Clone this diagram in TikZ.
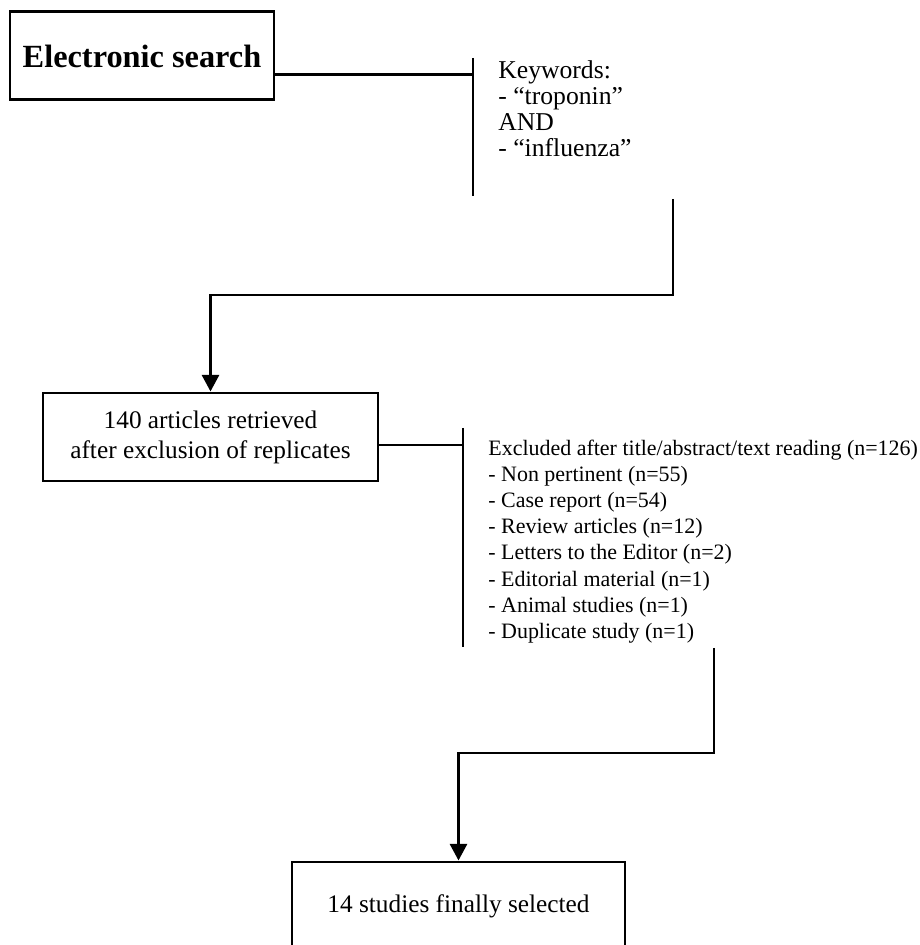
\documentclass[tikz,border=0pt]{standalone}
\usepackage{fontspec}
\setmainfont{Liberation Serif}
\usetikzlibrary{arrows.meta}
\tikzset{
  fcbox/.style={draw=black, line width=1.7pt, minimum height=1.76cm, inner sep=0pt, align=center},
  fcline/.style={line width=1.7pt, draw=black},
  fcarrow/.style={line width=1.7pt, draw=black, -{Triangle[width=9.7pt,length=9.5pt]}},
  fclist/.style={anchor=west, align=left, inner sep=0pt},
  fctitle/.style={font=\fontsize{18.4}{22}\selectfont\bfseries},
  fctext/.style={font=\fontsize{14.4}{17.1}\selectfont},
  fckey/.style={font=\fontsize{14.6}{14.8}\selectfont},
  fcsmall/.style={font=\fontsize{12.5}{14.9}\selectfont},
}
\begin{document}
\begin{tikzpicture}
\clip (0,0) rectangle (18.4,18.9);
\node[fcbox, fctitle, minimum width=5.28cm] (search) at (2.84,17.78) {Electronic search};
\node[fcbox, fctext, minimum width=6.70cm] (retrieved) at (4.21,10.16) {140 articles retrieved\\after exclusion of replicates};
\node[fcbox, fctext, minimum width=6.66cm] (selected) at (9.17,0.78) {14 studies finally selected};
\coordinate (kwtop) at (9.46,17.74);
\coordinate (kwjoin) at (9.46,17.40);
\coordinate (kwbot) at (9.46,14.98);
\coordinate (kwout) at (13.46,14.92);
\coordinate (kwturn) at (13.46,13.00);
\coordinate (extop) at (9.26,10.34);
\coordinate (exjoin) at (9.26,10.00);
\coordinate (exbot) at (9.26,5.96);
\coordinate (exout) at (14.28,5.94);
\coordinate (exturn) at (14.28,3.84);
\node[fclist, fckey] (keywords) at (9.96,16.72) {Keywords:\\- “troponin”\\AND\\- “influenza”};
\node[fclist, fcsmall] (excluded) at (9.76,8.07) {Excluded after title/abstract/text reading (n=126)\\- Non pertinent (n=55)\\- Case report (n=54)\\- Review articles (n=12)\\- Letters to the Editor (n=2)\\- Editorial material (n=1)\\- Animal studies (n=1)\\- Duplicate study (n=1)};
\draw[fcline] (search.east |- kwjoin) -- (kwjoin);
\draw[fcline] (kwtop) -- (kwbot);
\draw[fcarrow] (kwout) -- (kwturn) -| (retrieved.north);
\draw[fcline] (retrieved.east |- exjoin) -- (exjoin);
\draw[fcline] (extop) -- (exbot);
\draw[fcarrow] (exout) -- (exturn) -| (selected.north);
\end{tikzpicture}
\end{document}
